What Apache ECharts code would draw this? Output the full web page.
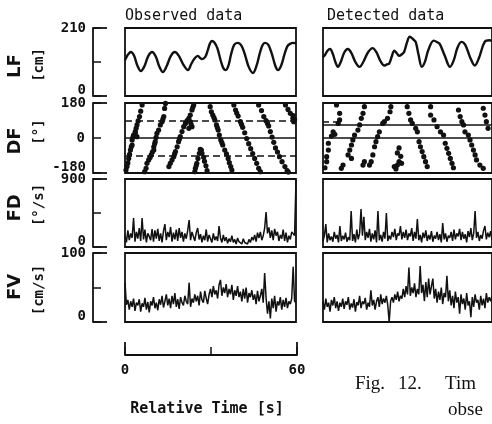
<!DOCTYPE html>
<html><head><meta charset="utf-8">
<script src="https://cdn.jsdelivr.net/npm/echarts@6/dist/echarts.min.js"></script>
<style>html,body{margin:0;padding:0;background:#fff}#c{width:492px;height:424px}</style>
</head><body><div id="c"></div>
<script>
// ---------- DATA ----------
const panelNames = ['LF', 'DF', 'FD', 'FV'];
const panelUnits = ['[cm]', '[°]', '[°/s]', '[cm/s]'];
const columnTitles = ['Observed data', 'Detected data'];
const captionWords = ['Fig.', '12.', 'Tim'];
const captionLine2 = 'obse';
const xTitle = 'Relative Time [s]';
const lfTicks = [0, 210];
const dfTicks = [-180, 0, 180];
const fdTicks = [0, 900];
const fvTicks = [0, 100];
const timeTicks = [0, 60];
const sampleStep = 0.5; // s between FD / FV samples

// LF: [time s, cm]
const lfObs = [[0,110],[0.4,118],[1.2,130],[2.1,136],[3.2,124],[4.3,95],[5.6,77],[6.8,92],[8.2,124],[9.5,136],[10.8,122],[12.0,92],[13.3,74],[14.6,92],[16.1,124],[17.5,136],[18.9,124],[20.6,95],[22.1,80],[23.2,98],[24.4,116],[25.6,124],[26.3,118],[27.0,114],[28.1,120],[29.0,140],[29.8,162],[30.5,170],[31.3,166],[32.4,148],[33.5,112],[34.5,86],[35.4,80],[36.3,94],[37.2,128],[38.3,158],[39.6,164],[40.8,156],[42.0,130],[43.4,90],[44.9,71],[46.1,92],[47.3,132],[48.2,156],[49.1,164],[50.3,158],[51.6,128],[52.8,92],[53.7,80],[54.8,94],[56.0,130],[57.0,154],[57.9,161],[59.0,164],[60,163]];
const lfDet = [[0,120],[0.8,128],[1.6,140],[2.5,145],[3.4,132],[4.4,105],[5.3,90],[6.3,105],[7.6,135],[8.8,145],[10.0,134],[11.5,105],[13.0,90],[14.3,105],[16.0,135],[17.6,148],[18.9,136],[20.4,108],[21.8,94],[22.7,98],[23.5,100],[24.4,122],[25.3,140],[26.2,132],[27.0,124],[27.9,128],[28.8,136],[29.8,165],[30.8,183],[31.9,176],[32.9,167],[33.9,128],[35.1,90],[36.2,106],[37.4,142],[39.3,171],[40.6,166],[41.5,160],[43.2,125],[45.1,90],[46.4,110],[47.7,148],[49.1,167],[50.5,158],[52.2,120],[53.9,94],[55.4,118],[57.4,167],[59.2,172],[60,170]];

// DF: [time s, degrees]
const dfObs = [[0.35,-165],[0.7,-147],[1.0,-128],[1.3,-105],[1.6,-84],[1.9,-62],[2.2,-45],[2.5,-36],[2.5,-10],[2.8,5],[3.0,15],[3.6,33],[3.6,25],[4.2,7],[3.9,50],[4.2,67],[4.6,88],[5.1,110],[5.5,138],[6.0,170],
[6.9,-173],[7.4,-156],[7.7,-130],[8.3,-113],[8.8,-100],[9.2,-87],[9.6,-72],[10.1,-62],[10.1,-45],[10.4,-30],[10.6,-19],[10.9,3],[11.2,24],[11.8,41],[12.4,67],[13.0,84],[13.3,97],[13.6,110],[13.9,152],[14.2,178],
[15.4,-147],[15.9,-130],[16.5,-113],[17.1,-96],[17.4,-82],[17.7,-70],[18.3,-45],[18.8,-19],[19.1,-5],[19.4,7],[20.0,33],[20.6,58],[21.2,75],[21.8,89],[22.4,101],[22.9,118],[23.5,144],[23.8,158],[24.1,170],[22.9,84],[23.5,58],[22.4,50],[23.2,70],
[24.5,-173],[24.7,-156],[25.0,-142],[25.2,-130],[25.6,-105],[26.1,-79],[26.4,-58],[26.8,-62],[27.0,-79],[27.6,-99],[27.9,-120],[28.4,-143],[28.8,-168],
[29.9,161],[30.3,135],[30.8,118],[31.2,105],[31.5,93],[32.1,67],[32.4,54],[32.7,41],[33.1,15],[33.6,-10],[34.0,-24],[34.3,-36],[35.0,-62],[35.6,-82],[36.2,-105],[36.6,-127],[37.1,-147],[37.5,-165],
[38.2,170],[38.8,144],[39.2,128],[39.7,113],[40.5,84],[40.9,70],[41.3,55],[42.0,27],[42.7,-3],[43.4,-29],[44.1,-55],[44.8,-80],[45.5,-105],[46.2,-130],[46.9,-156],[47.5,-173],
[46.9,170],[47.9,141],[48.7,110],[49.5,89],[50.0,75],[50.4,62],[51.0,33],[51.6,5],[52.2,-22],[52.8,-51],[53.5,-72],[54.2,-96],[55.1,-122],[56.1,-147],[56.9,-168],[57.3,-175],
[56.3,170],[57.2,147],[58.0,127],[58.9,101],[59.2,84],[59.5,95],[59.0,115]];
const dfDet = [[4.8,170],[5.9,127],[5.9,93],[5.4,75],[3.6,32],[4.2,19],[3.0,10],[1.9,-27],[1.9,-62],[1.3,-96],[1.3,-122],[0.7,-153],[7.1,-139],[6.5,-156],
[14.7,161],[14.2,127],[13.6,101],[13.0,67],[12.4,41],[11.2,15],[10.6,-10],[10.1,-36],[9.5,-62],[8.9,-87],[10.1,-105],[14.7,-122],[14.2,-139],
[24.1,161],[23.8,135],[22.9,101],[21.8,84],[21.2,75],[20.0,32],[19.4,7],[18.8,-19],[18.3,-45],[17.7,-87],[17.1,-122],[16.5,-139],
[27.0,-51],[26.4,-77],[27.6,-94],[27.0,-122],[26.4,-139],[27.9,-130],[25.3,-147],[25.9,-159],
[29.9,161],[30.5,127],[31.1,93],[31.7,75],[32.9,50],[33.5,32],[34.1,-19],[34.6,-45],[35.2,-70],[35.8,-96],[36.4,-122],[37.0,-147],
[38.2,161],[38.2,118],[39.4,93],[40.5,58],[41.7,32],[42.8,15],[43.4,-27],[44.0,-53],[44.6,-79],[45.2,-105],[45.8,-130],[46.3,-153],
[48.1,144],[48.7,110],[49.3,84],[49.9,67],[50.4,32],[51.6,15],[52.2,-10],[52.8,-36],[53.4,-62],[54.0,-87],[54.5,-113],[55.7,-139],[56.9,-156],
[56.9,153],[57.5,118],[58.0,84],[58.6,50]];
const dfObsRefLines = [0, 90, -90];   // solid, dashed, dashed
const dfDetRefLines = [0, 70];        // solid lines
const dfDetShortDash = [[0, 85], [7, 85]];

// FD [°/s], one sample every 0.5 s
const fdObs = [150,60,220,90,180,120,384,70,200,110,250,80,384,100,230,60,180,140,90,238,70,
220,110,240,80,180,60,210,304,90,200,130,265,70,190,100,230,80,250,120,200,
70,180,110,220,357,90,200,140,80,190,251,100,170,60,150,90,232,70,160,110,
60,180,90,140,80,278,120,60,160,80,130,50,110,70,150,60,100,40,120,70,
90,40,110,60,80,40,100,60,130,90,160,70,190,120,200,90,150,250,463,180,
260,120,220,90,240,150,200,80,160,110,230,80,190,60,150,100,200,190,150,887];
const fdDet = [80,150,304,60,180,90,140,70,200,110,160,60,278,80,150,100,190,70,130,90,476,
80,170,60,230,100,180,503,150,400,90,200,120,240,70,180,100,220,60,476,90,
160,70,200,110,450,80,150,100,200,130,240,90,180,150,278,100,200,120,230,90,
180,140,250,80,200,110,370,90,160,60,190,120,220,80,160,100,210,70,150,110,
200,90,170,60,318,100,180,70,150,120,200,80,230,100,180,140,240,90,200,110,
170,60,210,130,250,90,180,476,120,200,80,160,110,220,278,100,190,130,210,90];
// FV [cm/s], one sample every 0.5 s
const fvObs = [57,25,32,18,30,22,34,16,28,24,33,15,27,22,35,18,29,14,30,24,36,
20,28,17,33,25,38,21,30,40,24,34,20,38,26,42,22,33,19,36,28,
24,38,30,26,57,22,34,28,40,30,38,24,44,32,28,45,34,26,40,48,
36,52,40,46,34,54,61,38,50,42,55,36,48,40,54,32,46,38,52,36,
44,30,48,34,50,28,42,36,46,32,40,26,45,30,38,48,28,71,35,12,
30,5,34,20,38,15,30,24,36,18,32,22,35,20,30,26,34,80,30,28];
const fvDet = [30,18,34,22,28,15,32,24,36,20,30,16,28,22,34,19,30,25,36,18,27,
21,33,15,29,24,38,20,30,26,35,18,28,22,46,24,32,18,30,36,22,
40,26,34,28,38,24,0,30,36,28,40,32,44,30,38,34,48,36,52,40,
79,38,50,42,56,36,48,40,81,42,54,30,58,36,63,40,52,63,34,48,
28,44,32,50,26,42,36,67,30,46,24,38,20,44,28,36,12,40,26,34,
18,42,24,30,7,36,22,40,28,32,18,38,24,34,20,42,28,36,30,38];

// ---------- CHART ----------
const BLACK = '#111';
const MONO = '"DejaVu Sans Mono", "Liberation Mono", monospace';
const SERIF = '"Liberation Serif", "DejaVu Serif", serif';
const toPairs = arr => arr.map((v, i) => [i * sampleStep, v]);
const ranges = [lfTicks, dfTicks, fdTicks, fvTicks].map(t => [t[0], t[t.length - 1]]);
const midLabels = [false, true, false, false];

const tops = [28, 103, 179, 253];
const heights = [68, 70, 68, 69];
const colLeft = [125, 323];
const colWidth = 171;

const grid = [], xAxis = [], yAxis = [];
for (let c = 0; c < 2; c++) {
  for (let p = 0; p < 4; p++) {
    grid.push({left: colLeft[c], top: tops[p], width: colWidth, height: heights[p], show: true,
      borderColor: BLACK, borderWidth: 1.8, backgroundColor: '#fff'});
    xAxis.push({type: 'value', gridIndex: grid.length - 1, min: timeTicks[0], max: timeTicks[1], show: false});
    yAxis.push({type: 'value', gridIndex: grid.length - 1, min: ranges[p][0], max: ranges[p][1], show: false});
  }
}
const labelFont = {fontFamily: MONO, fontWeight: 'bold', fontSize: 14, color: BLACK};
for (let p = 0; p < 4; p++) {
  const gi = grid.length;
  grid.push({left: 93, top: tops[p], width: 14, height: heights[p]});
  xAxis.push({type: 'value', gridIndex: gi, min: 0, max: 1, show: false});
  const lo = ranges[p][0], hi = ranges[p][1];
  yAxis.push({type: 'value', gridIndex: gi, min: lo, max: hi, interval: hi - lo, position: 'left',
    axisLine: {show: true, onZero: false, lineStyle: {color: BLACK, width: 1.8}},
    axisTick: {show: true, inside: true, length: 14, lineStyle: {color: BLACK, width: 1.8}},
    splitLine: {show: false},
    axisLabel: {show: true, margin: 7, showMinLabel: true, showMaxLabel: true,
      formatter: v => (v === lo ? '{lo|' + v + '}' : '{hi|' + v + '}'),
      rich: {
        lo: Object.assign({padding: [0, 0, 11, 0]}, labelFont),
        hi: Object.assign({}, labelFont)
      }}
  });
  yAxis.push({type: 'value', gridIndex: gi, min: lo, max: hi, interval: (hi - lo) / 2, position: 'left',
    axisLine: {show: false, onZero: false},
    axisTick: {show: true, inside: true, length: 8, lineStyle: {color: BLACK, width: 1.5}},
    splitLine: {show: false},
    axisLabel: Object.assign({show: midLabels[p], margin: 8,
      formatter: v => (v === (lo + hi) / 2 ? String(v) : '')}, labelFont)
  });
}
const tg = grid.length;
grid.push({left: 125, top: 342, width: 172, height: 13});
yAxis.push({type: 'value', gridIndex: tg, min: 0, max: 1, show: false});
xAxis.push({type: 'value', gridIndex: tg, min: timeTicks[0], max: timeTicks[1], interval: timeTicks[1] - timeTicks[0],
  position: 'bottom',
  axisLine: {show: true, onZero: false, lineStyle: {color: BLACK, width: 1.8}},
  axisTick: {show: true, inside: true, length: 13, lineStyle: {color: BLACK, width: 1.8}},
  splitLine: {show: false},
  axisLabel: Object.assign({show: true, margin: 8, showMinLabel: true, showMaxLabel: true}, labelFont)
});
xAxis.push({type: 'value', gridIndex: tg, min: timeTicks[0], max: timeTicks[1], interval: (timeTicks[1] - timeTicks[0]) / 2,
  position: 'bottom',
  axisLine: {show: false, onZero: false},
  axisTick: {show: true, inside: true, length: 8, lineStyle: {color: BLACK, width: 1.5}},
  splitLine: {show: false}, axisLabel: {show: false}
});

function lineSeries(idx, data, width, smooth) {
  return {type: 'line', xAxisIndex: idx, yAxisIndex: idx, data: data, showSymbol: false, symbol: 'none',
    smooth: smooth, lineStyle: {color: BLACK, width: width}, silent: true};
}
function dfSeries(idx, data, solid, dashed, shortDash) {
  const ml = [];
  solid.forEach(v => ml.push({yAxis: v, lineStyle: {type: 'solid', width: 1.6, color: BLACK}}));
  dashed.forEach(v => ml.push({yAxis: v, lineStyle: {type: [7, 4], width: 1.6, color: BLACK}}));
  if (shortDash) ml.push([{coord: shortDash[0], lineStyle: {type: [6, 4], width: 1.6, color: BLACK}}, {coord: shortDash[1]}]);
  return {type: 'scatter', xAxisIndex: idx, yAxisIndex: idx, data: data, symbol: 'circle', symbolSize: 5.2,
    itemStyle: {color: BLACK, opacity: 1}, silent: true,
    markLine: {silent: true, symbol: 'none', label: {show: false}, animation: false, data: ml}};
}

const series = [
  lineSeries(0, lfObs, 2.4, 0.35),
  dfSeries(1, dfObs, [dfObsRefLines[0]], dfObsRefLines.slice(1), null),
  lineSeries(2, toPairs(fdObs), 1.5, false),
  lineSeries(3, toPairs(fvObs), 1.5, false),
  lineSeries(4, lfDet, 2.4, 0.35),
  dfSeries(5, dfDet, dfDetRefLines, [], dfDetShortDash),
  lineSeries(6, toPairs(fdDet), 1.5, false),
  lineSeries(7, toPairs(fvDet), 1.5, false)
];

const nameX = 15, unitX = 39;
const nameY = [66, 141, 208, 287];
const unitY = [65, 132, 205, 290];
const captionX = [355, 398, 445];
const graphic = [
  {type: 'text', style: {text: columnTitles[0], x: 125, y: 16, textVerticalAlign: 'middle', font: '15px ' + MONO, fill: BLACK}},
  {type: 'text', style: {text: columnTitles[1], x: 327, y: 16, textVerticalAlign: 'middle', font: '15px ' + MONO, fill: BLACK}},
  {type: 'text', style: {text: xTitle, x: 207, y: 409, textAlign: 'center', textVerticalAlign: 'middle', font: 'bold 15px ' + MONO, fill: BLACK}},
  {type: 'text', style: {text: captionLine2, x: 448, y: 410, textVerticalAlign: 'middle', font: '19px ' + SERIF, fill: BLACK}}
];
captionWords.forEach((w, i) => graphic.push({type: 'text', style: {text: w, x: captionX[i], y: 384,
  textVerticalAlign: 'middle', font: '19px ' + SERIF, fill: BLACK}}));
for (let p = 0; p < 4; p++) {
  graphic.push({type: 'text', x: nameX, y: nameY[p], rotation: Math.PI / 2,
    style: {text: panelNames[p], x: 0, y: 0, textAlign: 'center', textVerticalAlign: 'middle', font: 'bold 18px "DejaVu Sans", sans-serif', fill: BLACK}});
  graphic.push({type: 'text', x: unitX, y: unitY[p], rotation: Math.PI / 2,
    style: {text: panelUnits[p], x: 0, y: 0, textAlign: 'center', textVerticalAlign: 'middle', font: 'bold 14px ' + MONO, fill: BLACK}});
}

const chart = echarts.init(document.getElementById('c'), null, {renderer: 'canvas'});
chart.setOption({animation: false, backgroundColor: '#fff', grid, xAxis, yAxis, series, graphic});
</script></body></html>
